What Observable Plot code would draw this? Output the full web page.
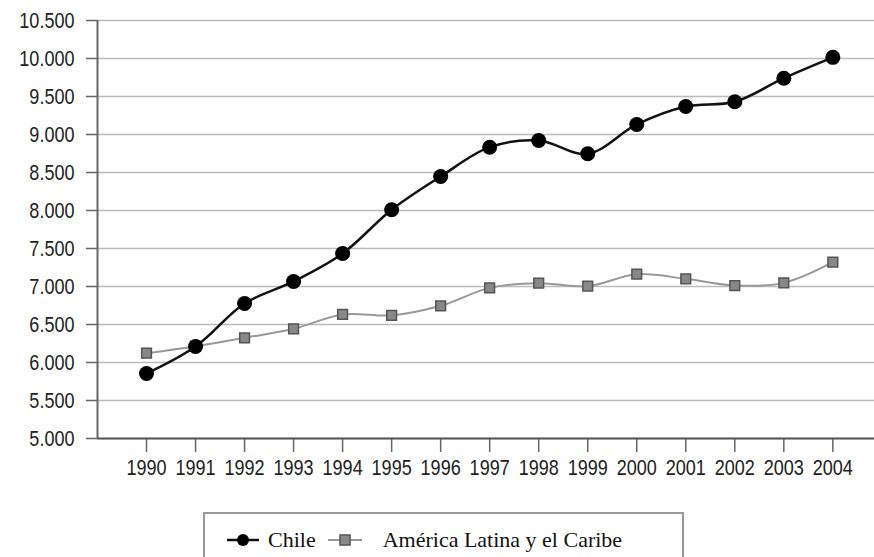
<!DOCTYPE html>
<html>
<head>
<meta charset="utf-8">
<script src="https://cdn.jsdelivr.net/npm/d3@7"></script>
<script src="https://cdn.jsdelivr.net/npm/@observablehq/plot@0.6"></script>
<style>
  html, body { margin: 0; padding: 0; background: #fff; }
  #chart { width: 874px; }
  .legend {
    margin-left: 203px; margin-top: 22px; width: 481px; height: 60px;
    border: 2px solid #999; border-bottom: none; box-sizing: border-box;
    display: flex; align-items: flex-start; padding-top: 13px; padding-left: 22px;
    font-family: "Liberation Serif", "DejaVu Serif", serif; font-size: 22px; color: #111;
  }
  .legend .item { display: flex; align-items: center; }
  .legend svg { margin-right: 9px; }
</style>
</head>
<body>
<div id="chart"></div>
<script>
const years = [1990,1991,1992,1993,1994,1995,1996,1997,1998,1999,2000,2001,2002,2003,2004];
const chile = [5855,6210,6776,7066,7434,8010,8447,8833,8921,8746,9132,9368,9430,9741,10015];
const latam = [6122,6215,6325,6443,6632,6620,6746,6982,7044,7004,7162,7101,7013,7048,7320];
const yTicks = [5000,5500,6000,6500,7000,7500,8000,8500,9000,9500,10000,10500];
const seriesNames = ["Chile", "América Latina y el Caribe"];

const chileData = years.map((y, i) => ({year: y, value: chile[i]}));
const latamData = years.map((y, i) => ({year: y, value: latam[i]}));

const fmt = d3.formatLocale({decimal: ",", thousands: ".", grouping: [3]}).format(",.0f");
const font = '"Liberation Sans", Arial, sans-serif';

const plot = Plot.plot({
  width: 874,
  height: 490,
  marginLeft: 97,
  marginRight: 0,
  marginTop: 20,
  marginBottom: 52,
  style: {fontFamily: font, fontSize: "22px", color: "#222", background: "#fff"},
  x: {type: "linear", domain: [1989, 2004.85], axis: null},
  y: {domain: [5000, 10500], axis: null},
  marks: [
    Plot.gridY(yTicks, {stroke: "#bbb", strokeOpacity: 1, strokeWidth: 1.5}),
    Plot.axisY(yTicks, {tickFormat: fmt, tickSize: 11, tickPadding: 12, stroke: "#666", strokeWidth: 1.5, fontSize: 22, fill: "#222", label: null}),
    Plot.axisX(years, {tickFormat: d => String(d), tickSize: 14, tickPadding: 7, stroke: "#666", strokeWidth: 1.5, fontSize: 22, fill: "#222", label: null}),
    Plot.ruleY([5000], {stroke: "#555", strokeWidth: 2}),
    Plot.ruleX([1989], {stroke: "#666", strokeWidth: 2}),
    Plot.line(latamData, {x: "year", y: "value", stroke: "#999", strokeWidth: 2, curve: "catmull-rom"}),
    Plot.dot(latamData, {x: "year", y: "value", symbol: "square", r: 5.5, fill: "#888", stroke: "#555", strokeWidth: 1.5}),
    Plot.line(chileData, {x: "year", y: "value", stroke: "#111", strokeWidth: 2.5, curve: "catmull-rom"}),
    Plot.dot(chileData, {x: "year", y: "value", r: 7.5, fill: "#000"})
  ]
});
// condense tick label glyphs horizontally (the reference uses a narrow typeface)
plot.querySelectorAll('g[aria-label="y-axis tick label"] text, g[aria-label="x-axis tick label"] text').forEach(t => {
  const tr = t.getAttribute("transform") || "";
  t.setAttribute("transform", (tr + " scale(0.82,1)").trim());
});
document.getElementById("chart").appendChild(plot);

const legend = document.createElement("div");
legend.className = "legend";
legend.innerHTML = `
  <div class="item"><svg width="32" height="16"><line x1="0" y1="8" x2="32" y2="8" stroke="#111" stroke-width="2.5"/><circle cx="16" cy="8" r="6" fill="#000"/></svg><span>${seriesNames[0]}</span></div>
  <div class="item" style="margin-left:12px"><svg width="34" height="16"><line x1="0" y1="8" x2="34" y2="8" stroke="#999" stroke-width="2"/><rect x="12" y="3" width="10" height="10" fill="#888" stroke="#555" stroke-width="1.5"/></svg><span style="margin-left:12px">${seriesNames[1]}</span></div>`;
document.body.appendChild(legend);
</script>
</body>
</html>
